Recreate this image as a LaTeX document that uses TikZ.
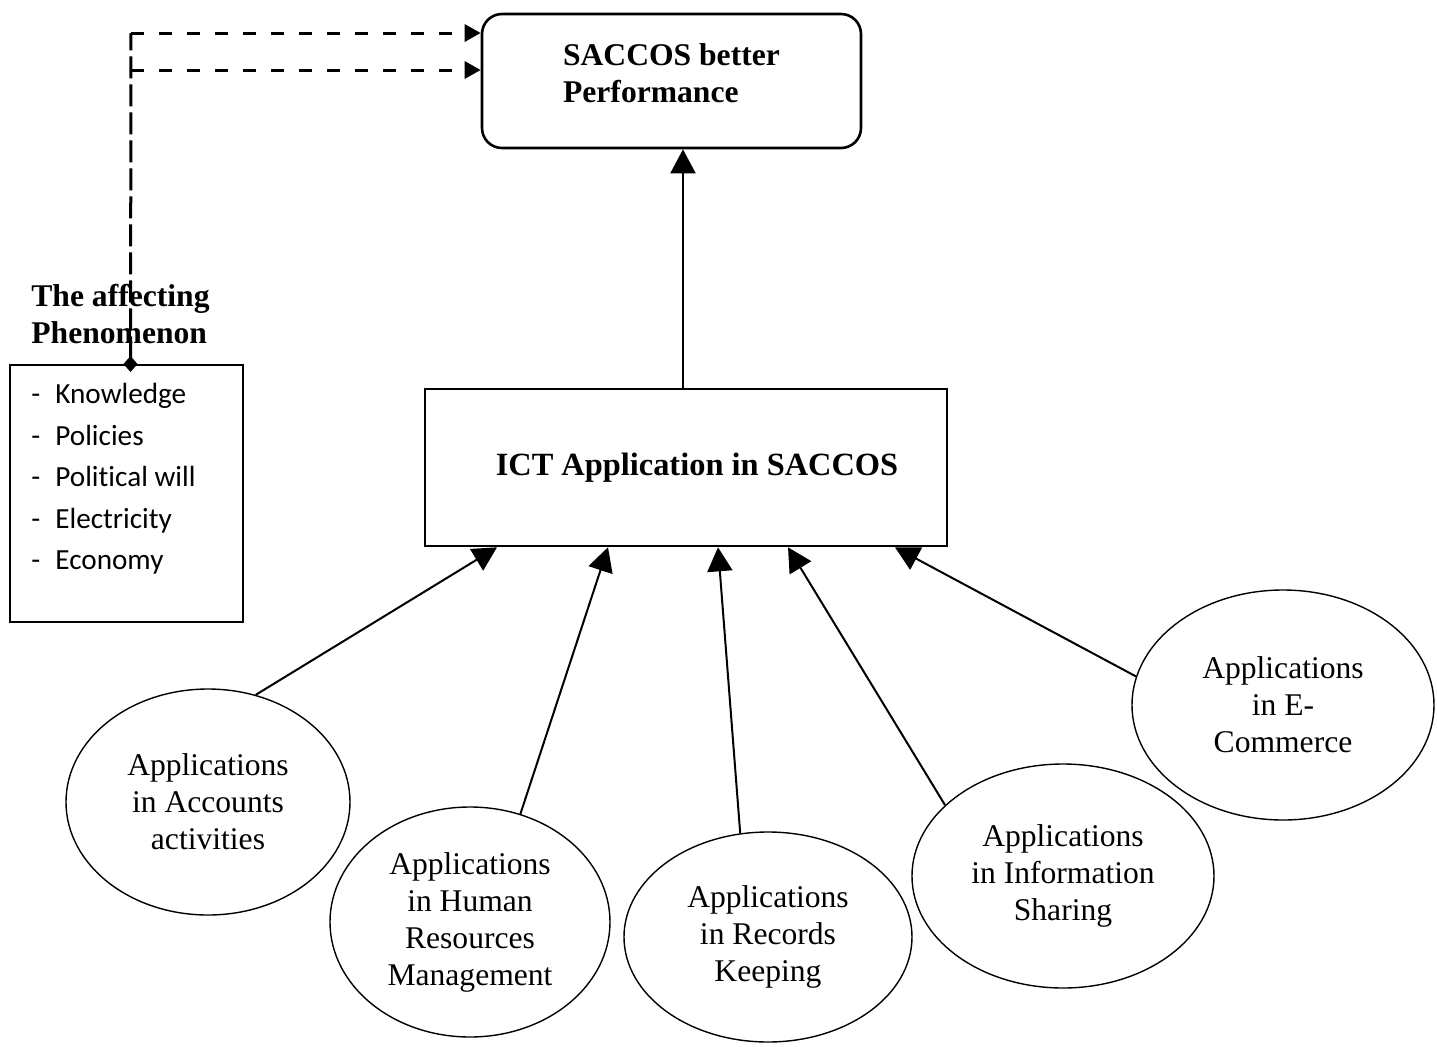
\documentclass[tikz,border=0pt]{standalone}
\usepackage{fontspec}
\setmainfont{Liberation Serif}
\newfontfamily\listfont[Ligatures=NoCommon]{Carlito}
\usetikzlibrary{positioning, shapes.geometric, arrows.meta}
\newcommand{\dashitem}[1]{\makebox[12pt][l]{-}#1}

\begin{document}
\begin{tikzpicture}[
    x=0.5pt, y=-0.5pt,
    >={Triangle[length=12pt, width=12.5pt]},
    outcome/.style={rectangle, rounded corners=10pt, draw, line width=1.3pt, minimum width=189.5pt, minimum height=67pt, align=left, text depth=8pt, font=\fontsize{15.8pt}{18.5pt}\selectfont\bfseries},
    core/.style={rectangle, draw, line width=1.3pt, minimum width=261pt, minimum height=78.5pt, font=\fontsize{16.2pt}{19pt}\selectfont\bfseries},
    influence/.style={rectangle, draw, line width=1pt, minimum width=116.5pt, minimum height=128.5pt},
    heading/.style={align=left, inner sep=0pt, font=\fontsize{15.8pt}{18.5pt}\selectfont\bfseries},
    factorlist/.style={align=left, inner sep=0pt, font=\listfont\fontsize{14.6pt}{20.75pt}\selectfont},
    app/.style={ellipse, draw, line width=0.7pt, inner sep=0pt, align=center, font=\fontsize{15.8pt}{18.5pt}\selectfont},
    link/.style={->, line width=1pt},
    stem/.style={line width=1.5pt, dash pattern=on 11pt off 3pt},
    hint/.style={line width=1.5pt, dash pattern=on 6.5pt off 7.5pt, -{Triangle[length=8pt, width=8.5pt]}}
]
    \useasboundingbox (0, 0) rectangle (1437, 1046);

    \node[outcome] at (671.5, 81) (perf) {SACCOS better \\ Performance};
    \node[core] at (686, 467.5) (ict) {\hspace*{11pt}ICT Application in SACCOS};

    \node[influence] at (126.5, 493.5) (factors) {};
    \node[heading, anchor=south west] at ([xshift=11pt, yshift=10pt]factors.north west) (phen) {The affecting \\ Phenomenon};
    \node[factorlist, anchor=north west] at ([xshift=11pt, yshift=-9.5pt]factors.north west) (items)
        {\dashitem{Knowledge} \\ \dashitem{Policies} \\ \dashitem{Political will} \\ \dashitem{Electricity} \\ \dashitem{Economy}};

    \node[app, minimum width=142pt, minimum height=113pt] at (208, 802) (accounts) {Applications \\ in Accounts \\ activities};
    \node[app, minimum width=140pt, minimum height=115pt] at (470, 922) (human) {Applications \\ in Human \\ Resources \\ Management};
    \node[app, minimum width=144pt, minimum height=105pt] at (768, 937) (records) {Applications \\ in Records \\ Keeping};
    \node[app, minimum width=151pt, minimum height=112pt] at (1063, 876) (sharing) {Applications \\ in Information \\ Sharing};
    \node[app, minimum width=151pt, minimum height=115pt] at (1283, 705) (ecommerce) {Applications \\ in E- \\ Commerce};

    % the affecting phenomenon feed into performance
    \coordinate (hub) at (131, 33);
    \coordinate (tap) at (131, 70);
    \draw[stem, {Diamond[length=8pt, width=7pt]}-] ([xshift=2pt, yshift=-4pt]factors.north) -- (hub);
    \draw[hint] (hub) -- (hub -| perf.west);
    \draw[hint] (tap) -- (tap -| perf.west);

    \draw[link] ([xshift=-1.5pt]ict.north) -- ([xshift=-1.5pt]ict.north |- perf.south);

    \draw[link] (accounts.66) -- ([xshift=-94.5pt]ict.south);
    \draw[link] (human.65) -- ([xshift=-39pt]ict.south);
    \draw[link] (records.105) -- ([xshift=16pt]ict.south);
    \draw[link] (sharing.149) -- ([xshift=51pt]ict.south);
    \draw[link] (ecommerce.169) -- ([xshift=104.5pt]ict.south);
\end{tikzpicture}
\end{document}
